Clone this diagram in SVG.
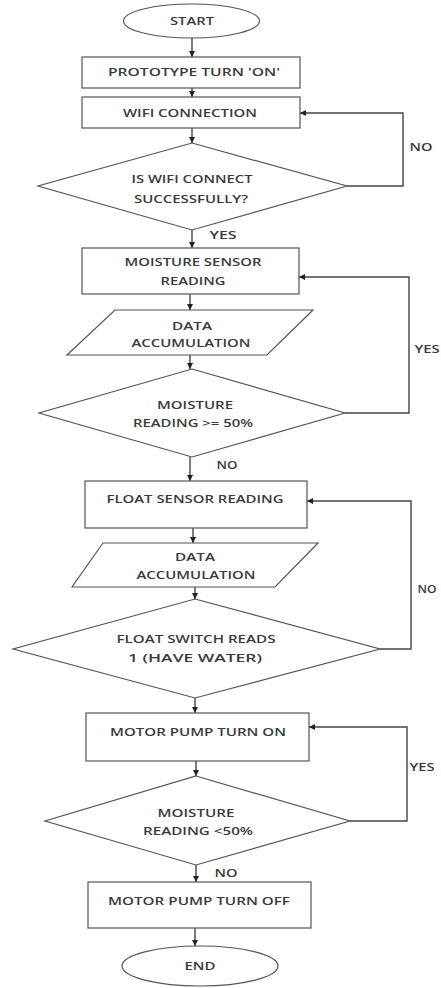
<svg xmlns="http://www.w3.org/2000/svg" width="441" height="988" viewBox="0 0 441 988">
<defs>
<marker id="ah" viewBox="0 0 10 10" refX="10" refY="5" markerWidth="6" markerHeight="6" orient="auto" markerUnits="userSpaceOnUse">
<path d="M0,0 L10,5 L0,10 z" fill="#222"/>
</marker>
<style>
.s{fill:#fff;stroke:#555;stroke-width:1.2}
.t{font-family:"Open Sans","Liberation Sans",sans-serif;font-size:11.5px;font-weight:600;fill:#3a3a3a;text-anchor:middle}
.c{fill:none;stroke:#444;stroke-width:1.4;marker-end:url(#ah)}
</style>
</defs>
<rect width="441" height="988" fill="#fff"/>
<g id="connectors">
<path class="c" d="M192,38 V57"/>
<path class="c" d="M192,88 V97"/>
<path class="c" d="M192,128 V143"/>
<path class="c" d="M192,230 V248"/>
<path class="c" d="M347,186 H403 V113 H300"/>
<path class="c" d="M190,294 V310"/>
<path class="c" d="M190,355 V369"/>
<path class="c" d="M345,413 H409 V277 H299"/>
<path class="c" d="M190,457 V481"/>
<path class="c" d="M193,528 V543"/>
<path class="c" d="M195,587 V599"/>
<path class="c" d="M380,649 H411 V501 H307"/>
<path class="c" d="M195,698 V713"/>
<path class="c" d="M196,761 V776"/>
<path class="c" d="M350,821 H407 V727 H309"/>
<path class="c" d="M196,865 V882"/>
<path class="c" d="M195,928 V946"/>
<text class="t" x="223" y="239" textLength="27" lengthAdjust="spacingAndGlyphs">YES</text>
<text class="t" x="421" y="151" textLength="23" lengthAdjust="spacingAndGlyphs">NO</text>
<text class="t" x="427" y="353" textLength="25" lengthAdjust="spacingAndGlyphs">YES</text>
<text class="t" x="227" y="469" textLength="21" lengthAdjust="spacingAndGlyphs">NO</text>
<text class="t" x="427" y="593" textLength="19" lengthAdjust="spacingAndGlyphs">NO</text>
<text class="t" x="422" y="771" textLength="25" lengthAdjust="spacingAndGlyphs">YES</text>
<text class="t" x="226" y="877" textLength="23" lengthAdjust="spacingAndGlyphs">NO</text>
</g>
<g id="start">
<ellipse class="s" cx="191.5" cy="21" rx="68" ry="17"/>
<text class="t" x="192" y="25" textLength="44" lengthAdjust="spacingAndGlyphs">START</text>
</g>
<g id="prototype">
<rect class="s" x="82" y="57" width="218" height="31"/>
<text class="t" x="194" y="76" textLength="172" lengthAdjust="spacingAndGlyphs">PROTOTYPE TURN 'ON'</text>
</g>
<g id="wifi">
<rect class="s" x="82" y="97" width="218" height="31"/>
<text class="t" x="190" y="117" textLength="134" lengthAdjust="spacingAndGlyphs">WIFI CONNECTION</text>
</g>
<g id="wifi-check">
<polygon class="s" points="192,143 347,186 192,230 38,186"/>
<text class="t" x="192" y="183" textLength="121" lengthAdjust="spacingAndGlyphs">IS WIFI CONNECT</text>
<text class="t" x="191" y="203" textLength="114" lengthAdjust="spacingAndGlyphs">SUCCESSFULLY?</text>
</g>
<g id="moisture-reading">
<rect class="s" x="82" y="248" width="217" height="46"/>
<text class="t" x="193" y="266" textLength="137" lengthAdjust="spacingAndGlyphs">MOISTURE SENSOR</text>
<text class="t" x="193" y="285" textLength="65" lengthAdjust="spacingAndGlyphs">READING</text>
</g>
<g id="data1">
<polygon class="s" points="115,310 313,310 267,355 67,355"/>
<text class="t" x="192" y="330" textLength="40" lengthAdjust="spacingAndGlyphs">DATA</text>
<text class="t" x="191" y="347" textLength="119" lengthAdjust="spacingAndGlyphs">ACCUMULATION</text>
</g>
<g id="moisture-check">
<polygon class="s" points="192,369 345,413 192,457 39,413"/>
<text class="t" x="195" y="409" textLength="76" lengthAdjust="spacingAndGlyphs">MOISTURE</text>
<text class="t" x="193" y="427" textLength="120" lengthAdjust="spacingAndGlyphs">READING &gt;= 50%</text>
</g>
<g id="float-reading">
<rect class="s" x="85" y="481" width="222" height="47"/>
<text class="t" x="195" y="503" textLength="177" lengthAdjust="spacingAndGlyphs">FLOAT SENSOR READING</text>
</g>
<g id="data2">
<polygon class="s" points="103,543 318,543 275,587 72,587"/>
<text class="t" x="195" y="561" textLength="40" lengthAdjust="spacingAndGlyphs">DATA</text>
<text class="t" x="196" y="579" textLength="119" lengthAdjust="spacingAndGlyphs">ACCUMULATION</text>
</g>
<g id="float-check">
<polygon class="s" points="195,599 380,649 195,698 13,649"/>
<text class="t" x="196" y="643" textLength="159" lengthAdjust="spacingAndGlyphs">FLOAT SWITCH READS</text>
<text class="t" x="195" y="662" textLength="134" lengthAdjust="spacingAndGlyphs">1 (HAVE WATER)</text>
</g>
<g id="motor-on">
<rect class="s" x="86" y="713" width="223" height="48"/>
<text class="t" x="198" y="736" textLength="176" lengthAdjust="spacingAndGlyphs">MOTOR PUMP TURN ON</text>
</g>
<g id="moisture-check2">
<polygon class="s" points="196,776 350,821 196,865 45,821"/>
<text class="t" x="196" y="817" textLength="77" lengthAdjust="spacingAndGlyphs">MOISTURE</text>
<text class="t" x="198" y="835" textLength="110" lengthAdjust="spacingAndGlyphs">READING &lt;50%</text>
</g>
<g id="motor-off">
<rect class="s" x="88" y="882" width="223" height="46"/>
<text class="t" x="199" y="905" textLength="182" lengthAdjust="spacingAndGlyphs">MOTOR PUMP TURN OFF</text>
</g>
<g id="end">
<ellipse class="s" cx="200" cy="966" rx="78" ry="20"/>
<text class="t" x="200" y="970" textLength="31" lengthAdjust="spacingAndGlyphs">END</text>
</g>
</svg>
